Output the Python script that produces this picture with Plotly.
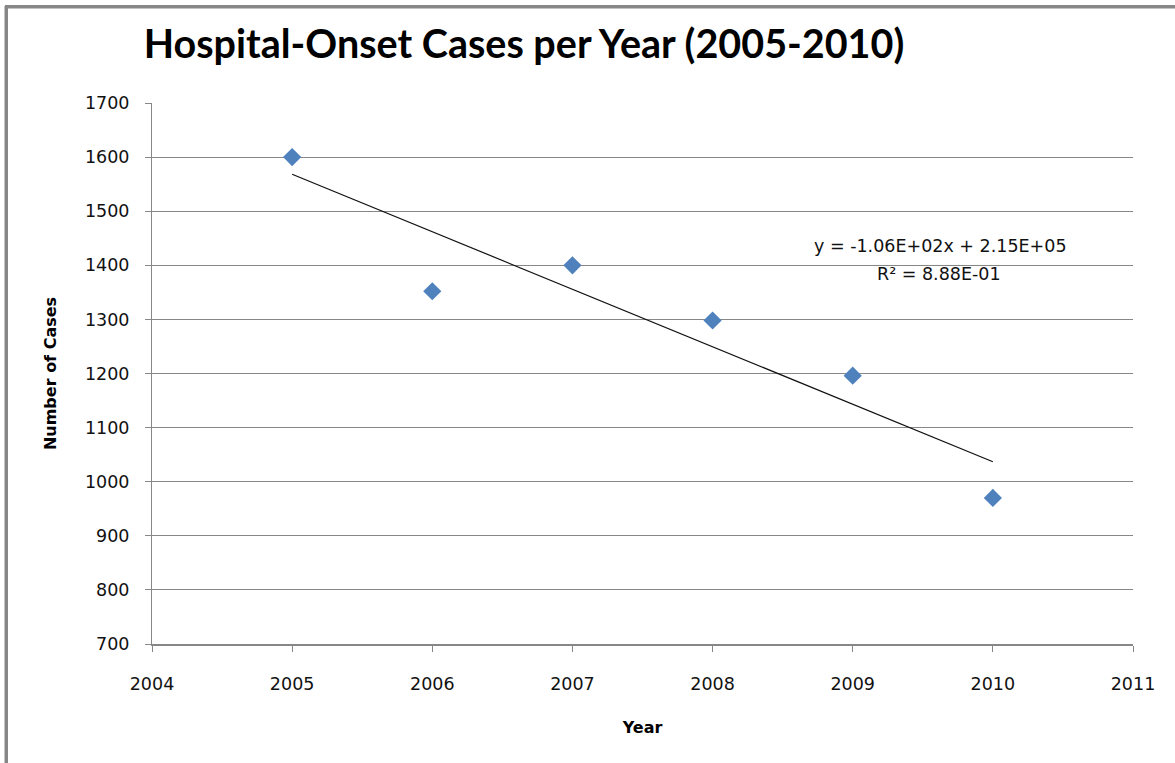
import numpy as np
import plotly.graph_objects as go

years = [2005, 2006, 2007, 2008, 2009, 2010]
cases = [1600, 1352, 1400, 1298, 1196, 970]
x_ticks = [2004, 2005, 2006, 2007, 2008, 2009, 2010, 2011]
y_ticks = [700, 800, 900, 1000, 1100, 1200, 1300, 1400, 1500, 1600, 1700]
equation_text = "y = -1.06E+02x + 2.15E+05"
r2_text = "R² = 8.88E-01"

slope, intercept = np.polyfit(years, cases, 1)
fit = [slope * x + intercept for x in years]

TITLE_FONT = "Lato"
FONT = "DejaVu Sans"
GRID = "#878787"

fig = go.Figure()
fig.add_trace(go.Scatter(
    x=[years[0], years[-1]], y=[fit[0], fit[-1]], mode="lines",
    line=dict(color="#111111", width=1.2), showlegend=False, hoverinfo="skip"))
fig.add_trace(go.Scatter(
    x=years, y=cases, mode="markers",
    marker=dict(symbol="diamond", size=14, color="#4F81BD",
                line=dict(width=0)),
    showlegend=False))

fig.update_layout(
    width=1175, height=763,
    margin=dict(l=152, r=42, t=103, b=119),
    paper_bgcolor="white", plot_bgcolor="white",
    font=dict(family=FONT, size=17, color="#000000"),
    title=dict(text="<b>Hospital-Onset Cases per Year (2005-2010)</b>",
               font=dict(family=TITLE_FONT, size=39.5, color="#000000"),
               x=(524 - 152) / 981, xref="paper", xanchor="center",
               y=1 - 44 / 763, yref="container", yanchor="middle"),
    xaxis=dict(range=[2004, 2011], tickvals=x_ticks, ticktext=[str(v) for v in x_ticks],
               showgrid=False, zeroline=False, showline=True, linecolor=GRID, linewidth=2,
               ticks="outside", ticklen=6, tickcolor=GRID, tickwidth=1,
               ticklabelstandoff=17,
               tickfont=dict(size=17.5, family=FONT, color="#111111"),
               title=dict(text="<b>Year</b>", font=dict(size=16, family=FONT), standoff=29)),
    yaxis=dict(range=[700, 1700], tickvals=y_ticks, ticktext=[str(v) for v in y_ticks],
               showgrid=True, gridcolor=GRID, gridwidth=1.3, zeroline=False,
               showline=True, linecolor=GRID, linewidth=1,
               ticks="outside", ticklen=6, tickcolor=GRID, tickwidth=1,
               ticklabelstandoff=12,
               tickfont=dict(size=17.5, family=FONT, color="#111111"),
               title=dict(text="<b>Number of Cases</b>", font=dict(size=16, family=FONT), standoff=24)),
)

fig.add_annotation(
    x=(940 - 152) / 981, y=(644 - 246) / 541, xref="paper", yref="paper",
    text=equation_text,
    showarrow=False, xanchor="center", yanchor="middle",
    font=dict(size=17.5, family=FONT, color="#111111"))
fig.add_annotation(
    x=(939 - 152) / 981, y=(644 - 274) / 541, xref="paper", yref="paper",
    text=r2_text,
    showarrow=False, xanchor="center", yanchor="middle",
    font=dict(size=17.5, family=FONT, color="#111111"))

# outer chart frame (top and left edges visible)
fig.add_shape(type="line", xref="paper", yref="paper",
              x0=(5 - 152) / 981, x1=(1180 - 152) / 981,
              y0=(644 - 7) / 541, y1=(644 - 7) / 541,
              line=dict(color=GRID, width=3), layer="above")
fig.add_shape(type="line", xref="paper", yref="paper",
              x0=(6 - 152) / 981, x1=(6 - 152) / 981,
              y0=(644 - 6) / 541, y1=(644 - 780) / 541,
              line=dict(color=GRID, width=3), layer="above")

post = (
    "document.body.style.margin='0px';"
    "document.body.style.overflow='hidden';"
    "var f=document.createElement('div');"
    "f.style.cssText='position:absolute;left:5px;top:5px;width:1300px;height:1000px;"
    "border-top:3px solid " + GRID + ";border-left:3px solid " + GRID + ";pointer-events:none;z-index:10;';"
    "document.body.appendChild(f);"
)
fig.write_html("out.html", config={"displayModeBar": False}, post_script=post)
